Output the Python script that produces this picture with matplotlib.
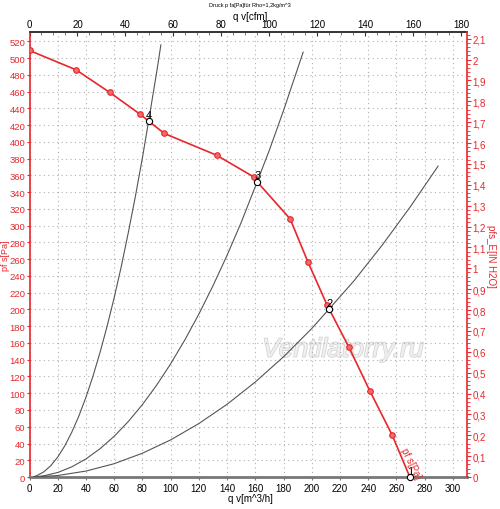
import numpy as np
import matplotlib
matplotlib.use("Agg")
import matplotlib.pyplot as plt
from matplotlib.ticker import MultipleLocator, FuncFormatter
import matplotlib.patheffects as pe

plt.rcParams['font.family'] = ['Liberation Sans', 'DejaVu Sans']

# ---- data ----
# fan curve (qv [m^3/h], pf s [Pa])
fan_q = [0, 32.9, 56.8, 78.3, 84.4, 95.5, 132.6, 159.0, 161.3, 184.7, 197.2, 210.9, 212.3, 226.3, 241.1, 257.0, 269.5]
fan_p = [509, 486, 459, 433, 424.8, 410, 384, 358, 352.3, 308, 257, 205, 200.5, 155, 103, 50, 0]
marker_q = [0, 32.9, 56.8, 78.3, 95.5, 132.6, 159.0, 184.7, 197.2, 210.9, 226.3, 241.1, 257.0]
marker_p = [509, 486, 459, 433, 410, 384, 358, 308, 257, 205, 155, 103, 50]

# operating points
op_labels = ["1", "2", "3", "4"]
op_q = [269.5, 212.3, 161.3, 84.4]
op_p = [0, 200.5, 352.3, 424.8]

# system curves
sysA_q = [3, 5, 10, 15, 20, 25, 30, 35, 40, 45, 50, 55, 60, 65, 70, 75, 80, 84.4, 90, 93.1]
sysA_p = [0.5, 1.5, 6, 13.4, 23.8, 37.2, 53.6, 72.9, 95.2, 120.5, 148.8, 180, 214, 251,
          291.6, 334.7, 380.8, 424.8, 482, 515.7]
sysB_q = [3, 10, 20, 30, 40, 50, 60, 70, 80, 90, 100, 110, 120, 130, 140, 150, 161.3, 170,
          180, 190, 193.9]
sysB_p = [0.1, 1.4, 5.4, 12.2, 21.6, 33.8, 48.6, 66.2, 86.4, 109.4, 135, 163.4, 194.4,
          228.2, 264.6, 303.8, 352.3, 390.2, 437.4, 487.4, 507]
sysC_q = [3, 20, 40, 60, 80, 100, 120, 140, 160, 180, 200, 212.3, 230, 250, 270, 289.5]
sysC_p = [0.05, 1.8, 7.1, 15.9, 28.4, 44.3, 63.8, 86.8, 113.4, 143.5, 177.2, 200.5,
          234.3, 276.9, 322.9, 371]

x_ticks = list(range(0, 301, 20))
y_ticks = list(range(0, 521, 20))
cfm_ticks = list(range(0, 181, 20))
inh2o_ticks = [round(0.1 * i, 1) for i in range(22)]

M3H_PER_CFM = 1.69901
PA_PER_INH2O = 249.089
XMAX, YMAX = 310, 531

RED = '#e8262b'
GREY = '#555555'

W, H = 500, 510
fig = plt.figure(figsize=(5, 5.1), dpi=100)
ax = fig.add_axes([0.059, 0.0627, 0.875, 0.8725])
ax.set_xlim(0, XMAX)
ax.set_ylim(0, YMAX)

# grid
ax.set_xticks(x_ticks)
ax.set_yticks(y_ticks)
ax.grid(True, color='#b0b0b0', lw=0.8, linestyle=(0, (1, 3)))

# watermark
ax.text(222, 152, "Ventilatorry.ru", fontsize=19, style='italic', color='#f0f0f0',
        ha='center', va='center', zorder=1,
        path_effects=[pe.withStroke(linewidth=1.2, foreground='#d4d4d4')])

# system curves
for q, p in [(sysA_q, sysA_p), (sysB_q, sysB_p), (sysC_q, sysC_p)]:
    ax.plot(q, p, color=GREY, lw=0.8, zorder=3)

# fan curve
ax.plot(fan_q, fan_p, color=RED, lw=1.2, zorder=4)
ax.plot(marker_q, marker_p, 'o', ms=4, mfc='#f26b6b', mec=RED, mew=0.8, zorder=5)

# operating points
ax.plot(op_q, op_p, 'o', ms=4.5, mfc='white', mec='black', mew=0.8, zorder=6, clip_on=False)
for lab, q, p in zip(op_labels, op_q, op_p):
    ax.annotate(lab, (q, p), xytext=(0.5, 1), textcoords='offset points',
                ha='center', va='bottom', fontsize=8, color='black', zorder=7)

# label along the curve
ax.text(270, 17, "pf s[Pa]", color=RED, fontsize=7, rotation=-63.6,
        ha='center', va='center', zorder=7, rotation_mode='anchor')

# spines and ticks
ax.spines['left'].set_color(RED)
ax.spines['left'].set_linewidth(1.2)
ax.spines['right'].set_visible(False)
ax.spines['top'].set_color('#333333')
ax.spines['top'].set_linewidth(1.2)
ax.spines['bottom'].set_color('#777777')
ax.spines['bottom'].set_linewidth(2)

ax.tick_params(axis='y', colors=RED, labelcolor=RED, labelsize=6.8, length=2.5, pad=0.5)
ax.tick_params(axis='x', colors='#777777', labelcolor='black', labelsize=7, length=2, pad=2)

# right axis (in H2O)
ax2 = ax.twinx()
ax2.set_ylim(0, YMAX / PA_PER_INH2O)
ax2.set_yticks(inh2o_ticks)
ax2.yaxis.set_minor_locator(MultipleLocator(0.02))
ax2.yaxis.set_major_formatter(FuncFormatter(lambda v, pos: ("%g" % round(v, 1)).replace('.', ',')))
ax2.tick_params(axis='y', which='major', colors=RED, labelcolor=RED, labelsize=7, length=3, pad=1)
ax2.tick_params(axis='y', which='minor', colors=RED, length=2)
for s in ['left', 'top', 'bottom']:
    ax2.spines[s].set_visible(False)
ax2.spines['right'].set_color(RED)
ax2.spines['right'].set_linewidth(1.2)

# top axis (cfm)
top = ax.secondary_xaxis('top', functions=(lambda q: np.asarray(q) / M3H_PER_CFM,
                                            lambda c: np.asarray(c) * M3H_PER_CFM))
top.set_xticks(cfm_ticks)
top.xaxis.set_minor_locator(MultipleLocator(5))
top.tick_params(axis='x', which='major', direction='in', colors='#333333', labelcolor='black',
                labelsize=7, length=3, pad=2)
top.tick_params(axis='x', which='minor', direction='in', colors='#666666', length=2)
top.spines['top'].set_color('#333333')
top.spines['top'].set_linewidth(1.2)

# axis titles
fig.text(250 / W, 1 - 17 / H, "q v[cfm]", fontsize=7, ha='center', va='center')
fig.text(250 / W, 1 - 499 / H, "q v[m^3/h]", fontsize=7, ha='center', va='center')
fig.text(5 / W, 1 - 256 / H, "pf s[Pa]", fontsize=6.5, color=RED, rotation=90,
         ha='center', va='center')
fig.text(491 / W, 1 - 256 / H, "pfs_E[IN H2O]", fontsize=7, color=RED, rotation=270,
         ha='center', va='center')
fig.text(250 / W, 1 - 6 / H, "Druck p fa[Pa]für Rho=1,2kg/m^3", fontsize=4,
         ha='center', va='center')

fig.savefig("out.png", dpi=100)
